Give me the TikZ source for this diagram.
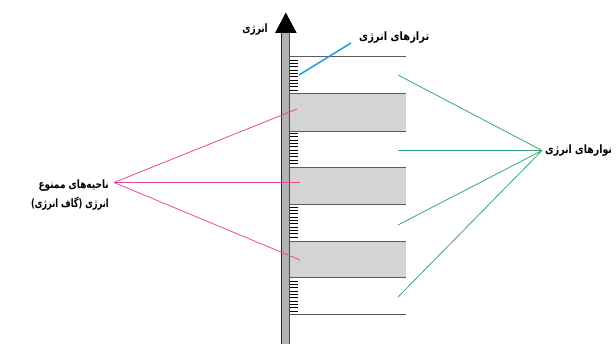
\documentclass[tikz,border=0pt]{standalone}
\usepackage{fontspec}
\usepackage{graphicx}
\newfontfamily\fa[Script=Arabic, BoldFont={DejaVu Sans Bold}]{DejaVu Sans}
\TeXXeTstate=1
% narrowed bold Persian text, one line
\newcommand\fatxt[2][0.84]{\scalebox{#1}[1]{\fa\bfseries\beginR #2\endR}}
\definecolor{gappink}{RGB}{228,72,150}
\definecolor{bandgreen}{RGB}{52,168,118}
\definecolor{levelblue}{RGB}{24,158,222}
\begin{document}
\begin{tikzpicture}[x=1pt,y=-1pt,
  lbl/.style={font=\fontsize{11.5}{18}\selectfont, inner sep=0pt},
  edge/.style={draw=black!65, line width=0.8pt},
  bandfill/.style={fill=black!17},
  tickmark/.style={draw=black, line width=0.7pt},
  pinkline/.style={draw=gappink, line width=0.8pt},
  greenline/.style={draw=bandgreen, line width=0.8pt},
  blueline/.style={draw=levelblue, line width=1.5pt}]
\useasboundingbox (0,0) rectangle (616,344);

% forbidden gaps (grey bands)
\foreach \a/\b in {93.5/131, 167/204.5, 241/277.5}{
  \fill[bandfill] (289,\a) rectangle (406,\b);
  \draw[edge] (289,\a) -- (406,\a);
  \draw[edge] (289,\b) -- (406,\b);
}
% outer limits of the allowed bands
\draw[edge] (289,56.5) -- (406,56.5);
\draw[edge] (289,314.5) -- (406,314.5);

% closely spaced energy levels
\foreach \s in {60,133.5,207,281}{
  \foreach \i in {0,...,9}{
    \draw[tickmark] (289,{\s+\i*3.33}) -- (298,{\s+\i*3.33});
  }
}

% energy axis
\fill[black!30] (281.5,33) rectangle (289.5,344);
\draw[black!85, line width=0.9pt] (281.9,33) -- (281.9,344);
\draw[black!70, line width=0.7pt] (289.1,33) -- (289.1,344);
\fill[black] (275,33) -- (296.7,33) -- (285.8,12.5) -- cycle;

% labels
\node[lbl, anchor=east] (energy) at (268,30) {\fatxt[0.78]{انرژی}};
\node[lbl, anchor=west] (levels) at (359,38) {\fatxt[0.86]{ترازهای انرژی}};
\node[lbl, anchor=west] (bands) at (545,151) {\fatxt[0.82]{نوارهای انرژی}};
\node[lbl, anchor=east] (gaps1) at (109,186) {\fatxt[0.78]{ناحیه‌های ممنوع}};
\node[lbl, anchor=east] (gaps2) at (109,204) {\fatxt[0.72]{انرژی (گاف انرژی)}};

% connector end points
\coordinate (lvA) at (351,43);
\coordinate (lvB) at (299,75);
\coordinate (gapApex) at (114,182.5);
\coordinate (g1) at (297,109);
\coordinate (g2) at (300,182.5);
\coordinate (g3) at (300,260);
\coordinate (bandApex) at (542,150.5);
\coordinate (n1) at (398,75);
\coordinate (n2) at (398,150.5);
\coordinate (n3) at (398,225);
\coordinate (n4) at (398,297);

\draw[blueline] (lvA) -- (lvB);
\foreach \t in {g1,g2,g3} \draw[pinkline] (gapApex) -- (\t);
\foreach \t in {n1,n2,n3,n4} \draw[greenline] (bandApex) -- (\t);
\end{tikzpicture}
\end{document}
